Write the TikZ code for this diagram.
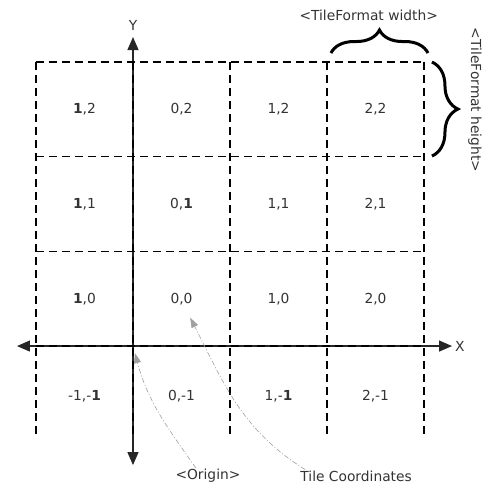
\documentclass[tikz,border=0pt]{standalone}
\usepackage{fontspec}
\setmainfont{DejaVu Sans}
\usepackage{tikz}
\usetikzlibrary{arrows.meta,decorations.pathreplacing,calc}

\begin{document}
\begin{tikzpicture}[x=97pt, y=94.7pt, font=\fontsize{13.8}{16}\selectfont, text=black!80,
  grid/.style={draw=black, dash pattern=on 8pt off 5pt, line width=1.2pt},
  axis/.style={draw=black!85, line width=1.2pt,
    {Triangle[length=13pt,width=11pt]}-{Triangle[length=13pt,width=11pt]}},
  tile/.style={inner sep=1pt},
  note/.style={inner sep=1pt},
  hint/.style={draw=gray!75, line width=0.6pt,
    dash pattern=on 5pt off 2pt on 1pt off 2pt, -{Triangle[length=10pt,width=7pt]}},
  brc/.style={decorate, decoration={brace, amplitude=#1}, line width=3pt},
]
  \useasboundingbox (-1.371,-1.468) rectangle (3.701,3.654);

  % axes
  \draw[axis] (-1.196,0) -- (3.289,0);
  \draw[axis] (0,-1.257) -- (0,3.263);
  \node (xlab) at (3.37,0) {X};
  \node (ylab) at (0,3.39) {Y};

  % tile borders
  \draw[grid] (-1,3) -- (3,3);
  \draw[grid] (-1,2) -- (3,2);
  \draw[grid] (-1,1) -- (3,1);
  \draw[grid] (-1,0) -- (3,0);
  \draw[grid] (-1,3) -- (-1,-0.95);
  \draw[grid] (0,3) -- (0,-0.95);
  \draw[grid] (1,3) -- (1,-0.95);
  \draw[grid] (2,3) -- (2,-0.95);
  \draw[grid] (3,3) -- (3,-0.95);

  % tiles
  \node[tile] (c-12) at (-0.5,2.5) {\textbf{1},2};
  \node[tile] (c02)  at (0.5,2.5)  {0,2};
  \node[tile] (c12)  at (1.5,2.5)  {1,2};
  \node[tile] (c22)  at (2.5,2.5)  {2,2};
  \node[tile] (c-11) at (-0.5,1.5) {\textbf{1},1};
  \node[tile] (c01)  at (0.5,1.5)  {0,\textbf{1}};
  \node[tile] (c11)  at (1.5,1.5)  {1,1};
  \node[tile] (c21)  at (2.5,1.5)  {2,1};
  \node[tile] (c-10) at (-0.5,0.5) {\textbf{1},0};
  \node[tile] (c00)  at (0.5,0.5)  {0,0};
  \node[tile] (c10)  at (1.5,0.5)  {1,0};
  \node[tile] (c20)  at (2.5,0.5)  {2,0};
  \node[tile] (c-1-1) at (-0.5,-0.53) {-1,-\textbf{1}};
  \node[tile] (c0-1)  at (0.5,-0.53)  {0,-1};
  \node[tile] (c1-1)  at (1.5,-0.53)  {1,-\textbf{1}};
  \node[tile] (c2-1)  at (2.5,-0.53)  {2,-1};

  % tile format
  \draw[brc=23pt] (2.041,3.094) -- (3.041,3.094);
  \node[note] (wlab) at (2.43,3.495) {<TileFormat width>};
  \draw[brc=26pt] (3.082,2.999) -- (3.082,2.006);
  \node[note, rotate=-90] (hlab) at (3.526,2.597) {<TileFormat height>};

  % hints
  \node[note] (org) at (0.773,-1.373) {<Origin>};
  \node[note] (tc) at (2.30,-1.373) {Tile Coordinates};
  \coordinate (orgtip) at (0.02,-0.075);
  \coordinate (tctip) at (0.59,0.30);
  \draw[hint] ([xshift=-12pt]org.north) to[out=125, in=-75] (orgtip);
  \draw[hint] ([xshift=-51pt]tc.north) to[out=148, in=-63] (tctip);
\end{tikzpicture}
\end{document}
